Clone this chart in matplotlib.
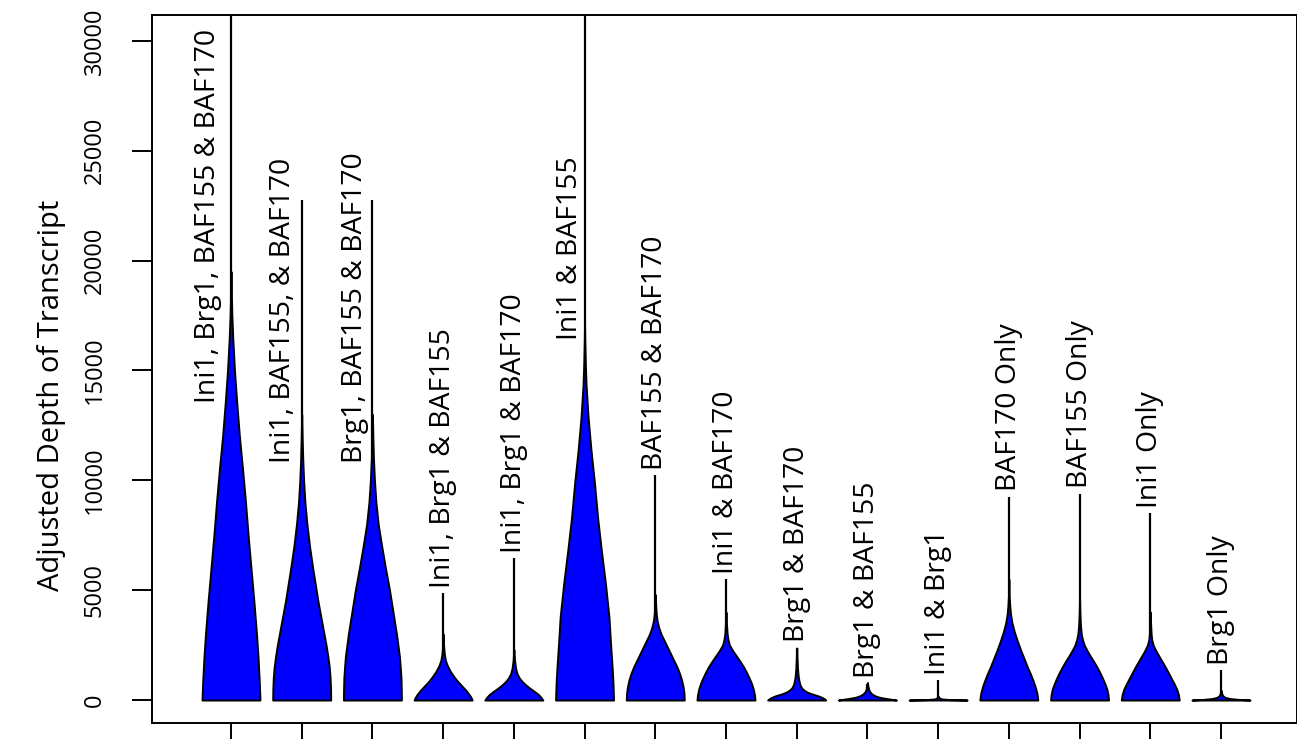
import matplotlib
matplotlib.use("Agg")
import matplotlib.pyplot as plt

plt.rcParams['font.family'] = ['Open Sans', 'DejaVu Sans']

categories = ["Ini1, Brg1, BAF155 & BAF170", "Ini1, BAF155, & BAF170", "Brg1, BAF155 & BAF170",
              "Ini1, Brg1 & BAF155", "Ini1, Brg1 & BAF170", "Ini1 & BAF155", "BAF155 & BAF170",
              "Ini1 & BAF170", "Brg1 & BAF170", "Brg1 & BAF155", "Ini1 & Brg1",
              "BAF170 Only", "BAF155 Only", "Ini1 Only", "Brg1 Only"]

# top of each whisker (max depth); first and sixth run past the plot top
max_depth = [40000, 22750, 22750, 4850, 6460, 40000, 10240, 5500, 2370, 750, 900, 9240, 9400, 8500, 1360]

# violin outline: depth levels and relative half-width
density_y = [
    [0, 1000, 2000, 3000, 4500, 6000, 7500, 9000, 10500, 12000, 13500, 15000, 16500, 17500, 18500, 19500],
    [0, 500, 1000, 1500, 2000, 2500, 3000, 3500, 4000, 4500, 5000, 6000, 7000, 8000, 9000, 10000, 11000, 12000, 13000],
    [0, 500, 1000, 1500, 2000, 2500, 3000, 3500, 4000, 4500, 5000, 6000, 7000, 8000, 9000, 10000, 11000, 12000, 13000],
    [0, 100, 250, 450, 650, 850, 1050, 1300, 1550, 1800, 2100, 2500, 3000],
    [0, 100, 250, 400, 550, 700, 850, 1000, 1200, 1450, 1800, 2300],
    [0, 800, 1500, 2500, 3800, 5300, 6800, 8300, 9900, 11400, 12900, 14400, 15400, 16400, 17000],
    [0, 300, 600, 900, 1200, 1500, 1800, 2100, 2400, 2700, 3000, 3300, 3600, 3900, 4300, 4800],
    [0, 250, 500, 750, 1000, 1250, 1500, 1750, 2000, 2250, 2500, 2750, 3000, 3400, 4000],
    [0, 60, 130, 200, 280, 360, 450, 550, 700, 900, 1100, 1400, 1800, 2370],
    [0, 40, 80, 130, 200, 280, 380, 500, 650, 800],
    [0, 20, 50, 100, 180],
    [0, 300, 600, 900, 1200, 1500, 1900, 2300, 2700, 3100, 3500, 3900, 4300, 4800, 5500],
    [0, 250, 500, 750, 1000, 1250, 1500, 1750, 2000, 2250, 2500, 2750, 3000, 3400, 4000, 4600],
    [0, 250, 500, 750, 1000, 1250, 1500, 1750, 2000, 2250, 2500, 2750, 3000, 3500, 4000],
    [0, 30, 70, 120, 200, 300, 450],
]
density_w = [
    [1, 0.97, 0.93, 0.88, 0.79, 0.69, 0.59, 0.5, 0.4, 0.29, 0.2, 0.12, 0.06, 0.03, 0.012, 0],
    [1, 0.995, 0.98, 0.95, 0.9, 0.84, 0.77, 0.7, 0.63, 0.56, 0.5, 0.38, 0.27, 0.18, 0.11, 0.065, 0.035, 0.015, 0],
    [1, 0.995, 0.985, 0.96, 0.93, 0.88, 0.83, 0.77, 0.71, 0.65, 0.59, 0.45, 0.32, 0.2, 0.12, 0.07, 0.035, 0.015, 0],
    [1, 0.97, 0.9, 0.78, 0.64, 0.5, 0.38, 0.25, 0.15, 0.08, 0.04, 0.015, 0],
    [1, 0.95, 0.85, 0.7, 0.54, 0.4, 0.28, 0.19, 0.11, 0.06, 0.025, 0],
    [1, 0.98, 0.95, 0.9, 0.84, 0.72, 0.58, 0.45, 0.34, 0.22, 0.12, 0.05, 0.025, 0.008, 0],
    [1, 0.99, 0.96, 0.91, 0.84, 0.75, 0.64, 0.53, 0.42, 0.31, 0.2, 0.12, 0.065, 0.035, 0.015, 0],
    [1, 0.98, 0.94, 0.88, 0.8, 0.71, 0.61, 0.49, 0.36, 0.23, 0.12, 0.07, 0.04, 0.02, 0],
    [1, 0.95, 0.85, 0.72, 0.52, 0.36, 0.25, 0.17, 0.11, 0.075, 0.05, 0.03, 0.015, 0],
    [1, 0.8, 0.6, 0.4, 0.25, 0.15, 0.08, 0.04, 0.015, 0],
    [1, 0.4, 0.12, 0.04, 0],
    [1, 0.97, 0.91, 0.83, 0.74, 0.64, 0.52, 0.4, 0.29, 0.19, 0.11, 0.06, 0.03, 0.01, 0],
    [1, 0.98, 0.94, 0.87, 0.79, 0.7, 0.6, 0.49, 0.37, 0.26, 0.16, 0.1, 0.06, 0.03, 0.01, 0],
    [1, 0.97, 0.91, 0.82, 0.72, 0.62, 0.52, 0.41, 0.3, 0.19, 0.1, 0.05, 0.03, 0.01, 0],
    [1, 0.6, 0.3, 0.14, 0.06, 0.025, 0],
]

yticks = [0, 5000, 10000, 15000, 20000, 25000, 30000]

# layout: labels whose whisker runs too high sit beside it
label_dx = [-0.32, -0.27, -0.25, 0, 0, -0.2, 0, 0, 0, 0, 0, 0, 0, 0, 0]
label_y = [13500, 10800, 10800, None, None, 16400, None, None, None, None, None, None, None, None, None]
half = 0.41

fig = plt.figure(figsize=(12.97, 7.39), dpi=100)
ax = fig.add_axes([152/1297, 16/739, 1144.5/1297, 708/739])

for i, cat in enumerate(categories):
    pos = i + 1
    ax.vlines(pos, 0, max_depth[i], color='black', lw=1.6, zorder=2)
    ws = [w*half for w in density_w[i]]
    ax.fill_betweenx(density_y[i], [pos-w for w in ws], [pos+w for w in ws],
                     facecolor='#0000ff', edgecolor='black', lw=1.4, zorder=3)
    if label_y[i] is None:
        ax.annotate(cat, (pos, max_depth[i]), xytext=(0, 4), textcoords='offset points',
                    rotation=90, ha='center', va='bottom', fontsize=20.4)
    else:
        ax.text(pos+label_dx[i], label_y[i], cat, rotation=90, ha='center', va='bottom', fontsize=20.4)

ax.set_xlim(-0.117, 16.068)
ax.set_ylim(-1045, 31180)
ax.set_xticks(range(1, 16))
ax.set_xticklabels([])
ax.set_yticks(yticks)
ax.set_yticklabels([str(t) for t in yticks], rotation=90, va='center')
ax.tick_params(axis='both', length=14.4, width=1.4, labelsize=17)
ax.tick_params(axis='y', pad=18)
for s in ax.spines.values():
    s.set_linewidth(1.4)
ax.set_ylabel('Adjusted Depth of Transcript', fontsize=21)
ax.yaxis.set_label_coords(-0.0755, 0.463)

fig.savefig('out.png', dpi=100)
